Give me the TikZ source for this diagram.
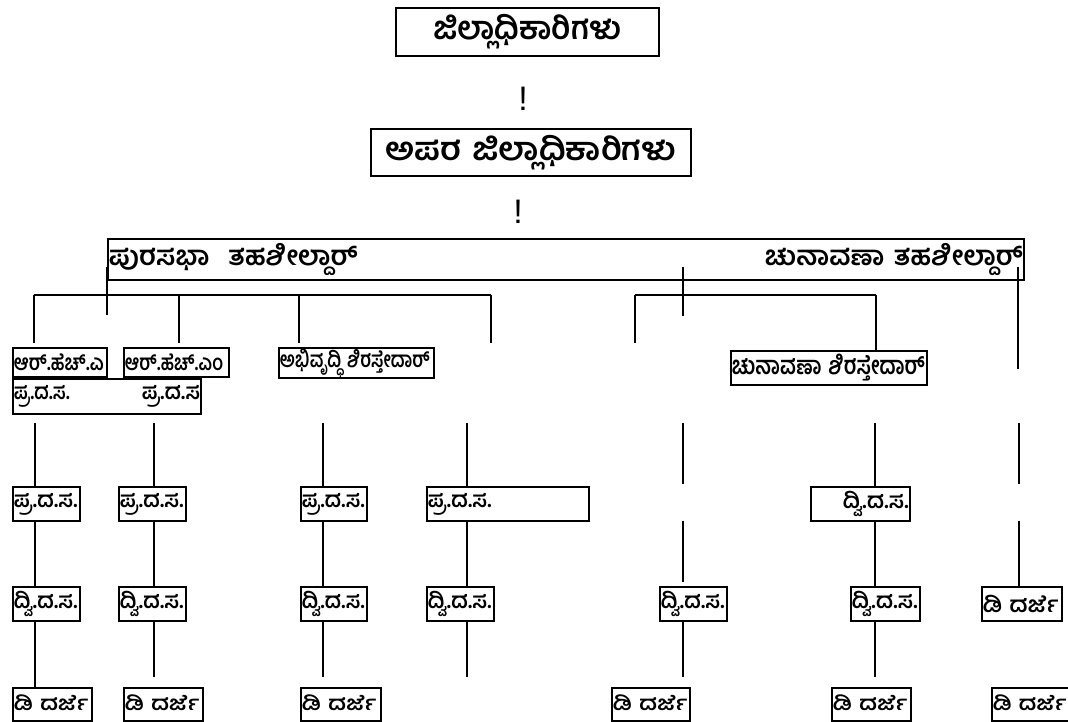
\documentclass[tikz,border=0pt]{standalone}
\usepackage{fontspec}
\usepackage{graphicx}
\newfontfamily\kn[Script=Kannada]{Hind Mysuru}
\newfontfamily\arialf{Liberation Sans}
\newcommand{\fitw}[2]{\resizebox{#1pt}{\height}{#2}}
\newcommand{\upw}[2]{\raisebox{2pt}[\height][\depth]{\resizebox{#1pt}{\height}{#2}}}
\begin{document}
\begin{tikzpicture}[x=1pt,y=-1pt,
  box/.style={draw, line width=1.8pt, inner ysep=0pt, inner xsep=1pt, anchor=north west, align=left},
  conn/.style={line width=1.8pt},
  lbl/.style={font=\kn\bfseries\fontsize{22}{24}\selectfont},
  lbld/.style={font=\kn\bfseries\fontsize{20}{22}\selectfont},
  chsf/.style={font=\kn\bfseries\fontsize{25}{27}\selectfont},
  mid/.style={font=\kn\bfseries\fontsize{27}{29}\selectfont},
  ttl/.style={font=\kn\bfseries\fontsize{32}{34}\selectfont},
  bang/.style={font=\arialf\fontsize{34}{34}\selectfont, inner sep=0pt}
]
\useasboundingbox (0,0) rectangle (1068,721);

% titles
\node[box, ttl, align=center, minimum width=263, minimum height=48, text width=261] (t1) at (395,7) {\fitw{188}{ಜಿಲ್ಲಾಧಿಕಾರಿಗಳು}};
\node[bang] (ex1) at (523,99) {!};
\node[box, ttl, align=center, minimum width=320, minimum height=47, text width=318] (t2) at (370,128) {\fitw{291}{ಅಪರ ಜಿಲ್ಲಾಧಿಕಾರಿಗಳು}};
\node[bang] (ex2) at (518,212) {!};

% tahsildar box
\node[box, mid, minimum width=916, minimum height=41, text width=914] (tah) at (107,238) {\fitw{249}{ಪುರಸಭಾ~~ತಹಶೀಲ್ದಾರ್}\hfill\fitw{258}{ಚುನಾವಣಾ ತಹಶೀಲ್ದಾರ್}};

% row A
\node[box, lbl, minimum width=94, minimum height=29, text width=92] (rha) at (12,347) {\fitw{90}{ಆರ್.ಹೆಚ್.ಎ}};
\node[box, lbl, minimum width=105, minimum height=29, text width=103] (rhm) at (123,347) {\fitw{98}{ಆರ್.ಹೆಚ್.ಎಂ}};
\node[box, lbl, minimum width=155, minimum height=30, text width=153] (abhi) at (278,347) {\fitw{150}{ಅಭಿವೃದ್ಧಿ ಶಿರಸ್ತೇದಾರ್}};
\node[box, lbl, minimum width=188, minimum height=35, text width=186] (pds0) at (12,378) {\fitw{56}{ಪ್ರ.ದ.ಸ.}\hfill\fitw{58}{ಪ್ರ.ದ.ಸ}};
\node[box, chsf, minimum width=196, minimum height=34, text width=194] (chs) at (730,350) {\fitw{193}{ಚುನಾವಣಾ ಶಿರಸ್ತೇದಾರ್}};

% row B
\node[box, lbl, minimum width=67, minimum height=34, text width=65] (b1) at (12,486) {\fitw{64}{ಪ್ರ.ದ.ಸ.}};
\node[box, lbl, minimum width=67, minimum height=34, text width=65] (b2) at (118,486) {\fitw{64}{ಪ್ರ.ದ.ಸ.}};
\node[box, lbl, minimum width=66, minimum height=34, text width=64] (b3) at (300,486) {\fitw{63}{ಪ್ರ.ದ.ಸ.}};
\node[box, lbl, minimum width=162, minimum height=34, text width=160] (b4) at (426,486) {\fitw{64}{ಪ್ರ.ದ.ಸ.}};
\node[box, lbl, minimum width=99, minimum height=34, text width=97] (b6) at (810,486) {\hfill\fitw{66}{ದ್ವಿ.ದ.ಸ.}};

% row C
\node[box, lbl, minimum width=67, minimum height=34, text width=65] (c1) at (12,586) {\fitw{64}{ದ್ವಿ.ದ.ಸ.}};
\node[box, lbl, minimum width=67, minimum height=34, text width=65] (c2) at (118,586) {\fitw{64}{ದ್ವಿ.ದ.ಸ.}};
\node[box, lbl, minimum width=66, minimum height=34, text width=64] (c3) at (300,586) {\fitw{63}{ದ್ವಿ.ದ.ಸ.}};
\node[box, lbl, minimum width=67, minimum height=34, text width=65] (c4) at (426,586) {\fitw{64}{ದ್ವಿ.ದ.ಸ.}};
\node[box, lbl, minimum width=67, minimum height=34, text width=65] (c5) at (659,586) {\fitw{64}{ದ್ವಿ.ದ.ಸ.}};
\node[box, lbl, minimum width=69, minimum height=34, text width=67] (c6) at (850,586) {\fitw{66}{ದ್ವಿ.ದ.ಸ.}};
\node[box, lbl, minimum width=80, minimum height=34, text width=78] (c7) at (981,586) {\fitw{76}{ಡಿ ದರ್ಜೆ}};

% row D
\node[box, lbld, minimum width=79, minimum height=33, text width=77] (d1) at (12,687) {\upw{75}{ಡಿ ದರ್ಜೆ}};
\node[box, lbld, minimum width=79, minimum height=33, text width=77] (d2) at (123,687) {\upw{75}{ಡಿ ದರ್ಜೆ}};
\node[box, lbld, minimum width=80, minimum height=33, text width=78] (d3) at (300,687) {\upw{75}{ಡಿ ದರ್ಜೆ}};
\node[box, lbld, minimum width=78, minimum height=33, text width=76] (d5) at (611,687) {\upw{75}{ಡಿ ದರ್ಜೆ}};
\node[box, lbld, minimum width=79, minimum height=33, text width=77] (d6) at (831,687) {\upw{75}{ಡಿ ದರ್ಜೆ}};
\node[box, lbld, minimum width=77, minimum height=33, text width=75] (d7) at (991,687) {\upw{74}{ಡಿ ದರ್ಜೆ}};

% column coordinates
\coordinate (k1) at (35,0);
\coordinate (k2) at (154,0);
\coordinate (k3) at (323,0);
\coordinate (k4) at (467,0);
\coordinate (k5) at (683,0);
\coordinate (k6) at (875,0);
\coordinate (k7) at (1019,0);

% left branch
\coordinate (pL) at (107,267);
\coordinate (pLb) at (107,315);
\coordinate (hL1) at (34,295);
\coordinate (hL2) at (179,295);
\coordinate (hL3) at (299,295);
\coordinate (hL4) at (491,295);
\coordinate (hL4e) at (491,343);
\draw[conn] (pL) -- (pLb);
\draw[conn] (hL1) -- (hL4);
\draw[conn] (hL1) -- ([yshift=4pt]rha.north -| hL1);
\draw[conn] (hL2) -- ([yshift=4pt]rhm.north -| hL2);
\draw[conn] (hL3) -- ([yshift=4pt]abhi.north -| hL3);
\draw[conn] (hL4) -- (hL4e);

% right branch
\coordinate (pR) at (683,267);
\coordinate (pRb) at (683,316);
\coordinate (hR1) at (635,295);
\coordinate (hR1e) at (635,343);
\coordinate (hR2) at (876,295);
\draw[conn] (pR) -- (pRb);
\draw[conn] (hR1) -- (hR2);
\draw[conn] (hR1) -- (hR1e);
\draw[conn] (hR2) -- (chs.north -| hR2);
\coordinate (fR) at (1018,267);
\coordinate (fRe) at (1018,369);
\draw[conn] (fR) -- (fRe);

% row A -> row B
\coordinate (r2) at (0,423);
\draw[conn] (k1 |- r2) -- (b1.north -| k1);
\draw[conn] (k2 |- r2) -- (b2.north -| k2);
\draw[conn] (k3 |- r2) -- (b3.north -| k3);
\draw[conn] (k4 |- r2) -- (b4.north -| k4);
\draw[conn] (k5 |- r2) -- ([yshift=2pt]b6.north -| k5);
\draw[conn] (k6 |- r2) -- (b6.north -| k6);
\draw[conn] (k7 |- r2) -- ([yshift=2pt]b6.north -| k7);

% row B -> row C
\draw[conn] (b1.south -| k1) -- (c1.north -| k1);
\draw[conn] (b2.south -| k2) -- (c2.north -| k2);
\draw[conn] (b3.south -| k3) -- (c3.north -| k3);
\draw[conn] (b4.south -| k4) -- (c4.north -| k4);
\draw[conn] ([yshift=1pt]b6.south -| k5) -- ([yshift=4pt]c5.north -| k5);
\draw[conn] (b6.south -| k6) -- (c6.north -| k6);
\draw[conn] ([yshift=1pt]b6.south -| k7) -- (c7.north -| k7);

% row C -> row D
\coordinate (r4) at (0,677);
\draw[conn] (c1.south -| k1) -- (d1.north -| k1);
\draw[conn] (c2.south -| k2) -- (k2 |- r4);
\draw[conn] (c3.south -| k3) -- (k3 |- r4);
\draw[conn] (c4.south -| k4) -- (k4 |- r4);
\draw[conn] (c5.south -| k5) -- (k5 |- r4);
\draw[conn] (c6.south -| k6) -- (k6 |- r4);
\end{tikzpicture}
\end{document}
